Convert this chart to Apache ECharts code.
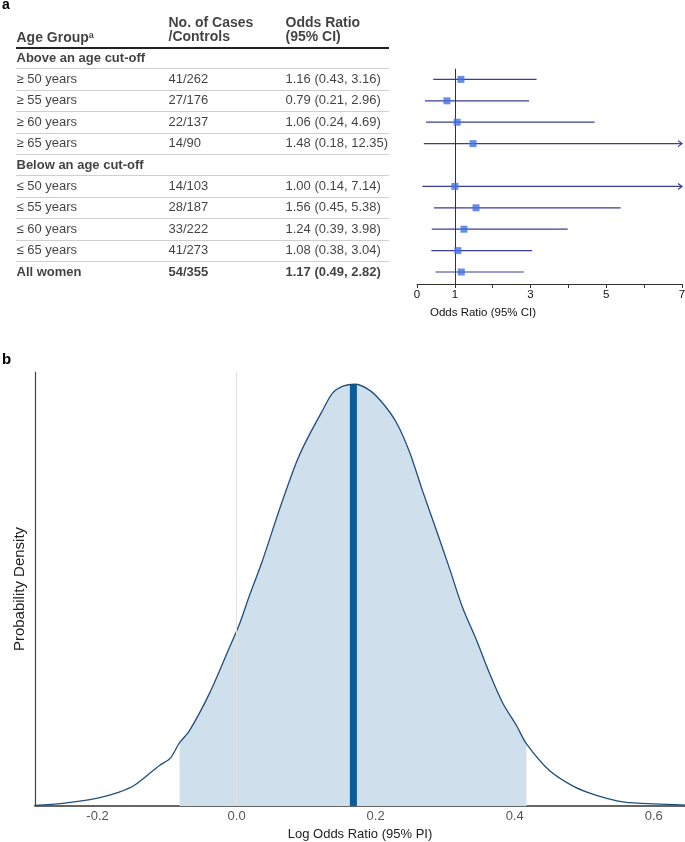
<!DOCTYPE html>
<html>
<head>
<meta charset="utf-8">
<script src="https://cdn.jsdelivr.net/npm/echarts@6/dist/echarts.min.js"></script>
<style>
html,body{margin:0;padding:0;background:#fff;}
#chart{width:685px;height:842px;}
</style>
</head>
<body>
<div id="chart"></div>
<script>
// ---------- Panel a data ----------
const sectionLabels = ['Above an age cut-off', 'Below an age cut-off'];
const ageGroups = ['≥ 50 years', '≥ 55 years', '≥ 60 years', '≥ 65 years',
                   '≤ 50 years', '≤ 55 years', '≤ 60 years', '≤ 65 years', 'All women'];
const casesControls = ['41/262', '27/176', '22/137', '14/90',
                       '14/103', '28/187', '33/222', '41/273', '54/355'];
const oddsRatio = [1.16, 0.79, 1.06, 1.48, 1.00, 1.56, 1.24, 1.08, 1.17];
const ciLow     = [0.43, 0.21, 0.24, 0.18, 0.14, 0.45, 0.39, 0.38, 0.49];
const ciHigh    = [3.16, 2.96, 4.69, 12.35, 7.14, 5.38, 3.98, 3.04, 2.82];
const forestTickLabels = [0, 1, 3, 5, 7];

// ---------- Panel b data (density) ----------
const densityX = [-0.291,-0.25,-0.2,-0.17,-0.147,-0.111,-0.096,-0.082,-0.068,-0.039,-0.010,0.004,0.019,0.037,0.062,0.086,0.101,0.124,0.138,0.153,0.170,0.191,0.210,0.230,0.249,0.268,0.288,0.306,0.325,0.345,0.364,0.383,0.403,0.417,0.450,0.482,0.508,0.530,0.558,0.601,0.645];
const densityY = [0.005,0.02,0.058,0.10,0.152,0.298,0.348,0.465,0.552,0.828,1.169,1.336,1.554,1.801,2.185,2.526,2.693,2.911,3.035,3.086,3.100,3.057,2.962,2.817,2.599,2.309,2.018,1.750,1.459,1.220,0.973,0.755,0.588,0.457,0.261,0.152,0.094,0.06,0.029,0.015,0.007];
const piLow = -0.082, piHigh = 0.417;
const medianLogOR = 0.168, medianDensity = 3.1;
const densityTickLabels = [-0.2, 0.0, 0.2, 0.4, 0.6];

// ---------- layout / styles ----------
const FONT = 'Liberation Sans, Arial, Helvetica, sans-serif';
const NARROW = 'Liberation Sans Narrow, Arial Narrow, Liberation Sans, Arial, sans-serif';
const ciColor = '#3a3d99';
const sqColor = '#4470e6';
const rowMin = -2.5, rowMax = 10.56;
const dataRows = [1, 2, 3, 4, 6, 7, 8, 9, 10];
const sectionRows = [0, 5];
const colX = [0, 152, 269];

// table text items
const col1 = [], col2 = [], col3 = [];
sectionLabels.forEach((s, k) => col1.push({ value: [colX[0], sectionRows[k]], name: s, label: { fontWeight: 'bold' } }));
ageGroups.forEach((g, i) => {
  const bold = i === ageGroups.length - 1;
  const lab = bold ? { fontWeight: 'bold' } : {};
  col1.push({ value: [colX[0], dataRows[i]], name: g, label: lab });
  col2.push({ value: [colX[1], dataRows[i]], name: casesControls[i], label: lab });
  col3.push({ value: [colX[2], dataRows[i]],
    name: oddsRatio[i].toFixed(2) + ' (' + ciLow[i].toFixed(2) + ', ' + ciHigh[i].toFixed(2) + ')', label: lab });
});
// headers
col1.push({ value: [colX[0], -0.93], name: 'h', label: { formatter: '{h|Age Group}{s|a}' } });
col2.push({ value: [colX[1], -1.636], name: 'No. of Cases', label: { fontWeight: 'bold', fontSize: 14 } });
col2.push({ value: [colX[1], -0.958], name: '/Controls', label: { fontWeight: 'bold', fontSize: 14 } });
col3.push({ value: [colX[2], -1.636], name: 'Odds Ratio', label: { fontWeight: 'bold', fontSize: 14 } });
col3.push({ value: [colX[2], -0.958], name: '(95% CI)', label: { fontWeight: 'bold', fontSize: 14 } });

function textSeries(data) {
  return {
    type: 'scatter', xAxisIndex: 0, yAxisIndex: 0, data: data,
    symbolSize: 1, itemStyle: { color: 'rgba(0,0,0,0)' }, silent: true, clip: false,
    label: {
      show: true, position: 'right', distance: 0, formatter: '{b}',
      fontFamily: FONT, fontSize: 13, color: '#111', align: 'left', verticalAlign: 'middle',
      rich: {
        h: { fontFamily: FONT, fontSize: 14, fontWeight: 'bold', color: '#111' },
        s: { fontFamily: FONT, fontSize: 9, fontWeight: 'bold', color: '#111', verticalAlign: 'top', padding: [0, 0, 6, 0] }
      }
    }
  };
}

const sepLines = [{ yAxis: -0.467, lineStyle: { color: '#222', width: 2, type: 'solid' } }];
for (let k = 0; k < 10; k++) sepLines.push({ yAxis: k + 0.5, lineStyle: { color: '#cfcfcf', width: 1, type: 'solid' } });

const ciData = dataRows.map((r, i) => [ciLow[i], ciHigh[i], r]);
const sqData = dataRows.map((r, i) => [oddsRatio[i], r]);

const densData = densityX.map((x, i) => [x, densityY[i]]);
const shadeData = densData.filter(p => p[0] >= piLow - 1e-9 && p[0] <= piHigh + 1e-9);

const option = {
  animation: false,
  graphic: [
    { type: 'text', left: 2, top: -2, style: { text: 'a', font: 'bold 14px ' + FONT, fill: '#000' } },
    { type: 'text', left: 2, top: 352, style: { text: 'b', font: 'bold 15px ' + FONT, fill: '#000' } }
  ],
  grid: [
    { left: 16, right: 296, top: 4.5, bottom: 558, outerBoundsMode: 'none' },
    { left: 417, right: 3, top: 4.5, bottom: 558, outerBoundsMode: 'none' },
    { left: 35, right: 0, top: 372, bottom: 36, outerBoundsMode: 'none' }
  ],
  xAxis: [
    { gridIndex: 0, type: 'value', min: 0, max: 373, show: false },
    { gridIndex: 1, type: 'value', min: 0, max: 7, interval: 1, position: 'bottom',
      axisLine: { show: true, onZero: false, lineStyle: { color: '#333', width: 1 } },
      axisTick: { show: true, length: 4, lineStyle: { color: '#333' } },
      axisLabel: { customValues: forestTickLabels, color: '#111', fontFamily: FONT, fontSize: 11.5, margin: 5 },
      splitLine: { show: false },
      name: 'Odds Ratio (95% CI)', nameLocation: 'middle', nameGap: 23,
      nameTextStyle: { color: '#111', fontFamily: FONT, fontSize: 11.5, padding: [0, 133, 0, 0] } },
    { gridIndex: 2, type: 'value', min: -0.29, max: 0.645, position: 'bottom',
      axisLine: { show: true, onZero: false, lineStyle: { color: '#333', width: 1.5 } },
      axisTick: { show: false },
      axisLabel: { customValues: densityTickLabels, formatter: v => v.toFixed(1), color: '#555', fontFamily: NARROW, fontSize: 13, margin: 4 },
      splitLine: { show: false },
      name: 'Log Odds Ratio (95% PI)', nameLocation: 'middle', nameGap: 14,
      nameTextStyle: { color: '#222', fontFamily: NARROW, fontSize: 13 } }
  ],
  yAxis: [
    { gridIndex: 0, type: 'value', min: rowMin, max: rowMax, inverse: true, show: false },
    { gridIndex: 1, type: 'value', min: rowMin, max: rowMax, inverse: true, show: false },
    { gridIndex: 2, type: 'value', min: 0, max: 3.19,
      axisLine: { show: true, onZero: false, lineStyle: { color: '#444', width: 1.2 } },
      axisTick: { show: false }, axisLabel: { show: false }, splitLine: { show: false },
      name: 'Probability Density', nameLocation: 'middle', nameGap: 8,
      nameTextStyle: { color: '#222', fontFamily: NARROW, fontSize: 15 } }
  ],
  series: [
    // table separators
    { type: 'line', xAxisIndex: 0, yAxisIndex: 0, data: [], silent: true,
      markLine: { silent: true, symbol: 'none', label: { show: false }, animation: false, data: sepLines } },
    textSeries(col1), textSeries(col2), textSeries(col3),
    // reference line at OR = 1
    { type: 'line', xAxisIndex: 1, yAxisIndex: 1, data: [], silent: true,
      markLine: { silent: true, symbol: 'none', label: { show: false },
        lineStyle: { color: '#333', width: 1, type: 'solid' },
        data: [[{ coord: [1, 0.5] }, { coord: [1, rowMax] }]] } },
    // CI lines
    { type: 'custom', xAxisIndex: 1, yAxisIndex: 1, data: ciData, clip: false, silent: true,
      encode: { x: [0, 1], y: 2 },
      renderItem: function (params, api) {
        const lo = api.value(0), hi = api.value(1), r = api.value(2);
        const xmax = 7;
        const p1 = api.coord([lo, r]);
        const p2 = api.coord([Math.min(hi, xmax), r]);
        const ch = [{ type: 'line', shape: { x1: p1[0], y1: p1[1], x2: p2[0], y2: p2[1] },
          style: { stroke: ciColor, lineWidth: 1.2 } }];
        if (hi > xmax) {
          ch.push({ type: 'polyline', shape: { points: [[p2[0] - 4, p2[1] - 3], [p2[0], p2[1]], [p2[0] - 4, p2[1] + 3]] },
            style: { stroke: ciColor, fill: null, lineWidth: 1.2 } });
        }
        return { type: 'group', children: ch };
      } },
    // point estimates
    { type: 'scatter', xAxisIndex: 1, yAxisIndex: 1, data: sqData, symbol: 'rect', symbolSize: 7,
      itemStyle: { color: sqColor }, silent: true, z: 5 },
    // zero reference line in panel b
    { type: 'line', xAxisIndex: 2, yAxisIndex: 2, data: [], silent: true, z: 1,
      markLine: { silent: true, symbol: 'none', label: { show: false },
        lineStyle: { color: '#e2e2e2', width: 1, type: 'solid' }, data: [{ xAxis: 0 }] } },
    // shaded 95% PI
    { type: 'line', xAxisIndex: 2, yAxisIndex: 2, data: shadeData, smooth: 0.3, symbol: 'none', silent: true, z: 2,
      lineStyle: { width: 0 }, areaStyle: { color: '#cfe0ec', opacity: 1 } },
    // median line
    { type: 'line', xAxisIndex: 2, yAxisIndex: 2, data: [[medianLogOR, 0], [medianLogOR, medianDensity]],
      symbol: 'none', silent: true, z: 3, lineStyle: { color: '#0b5b98', width: 7, cap: 'butt' } },
    // density curve
    { type: 'line', xAxisIndex: 2, yAxisIndex: 2, data: densData, smooth: 0.3, symbol: 'none', silent: true, z: 4,
      lineStyle: { color: '#1f4e7d', width: 1.3 } }
  ]
};

const chart = echarts.init(document.getElementById('chart'), null, { renderer: 'canvas' });
chart.setOption(option);
</script>
</body>
</html>
